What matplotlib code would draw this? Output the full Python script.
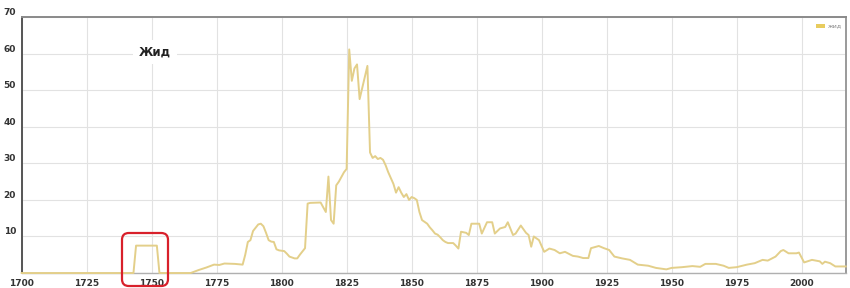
import matplotlib.pyplot as plt
from matplotlib.patches import FancyBboxPatch, Rectangle

# word frequency of "жид"
years = [1700, 1743, 1744, 1752, 1753, 1765, 1768, 1771, 1774, 1776, 1778, 1782, 1785,
         1786, 1787, 1788, 1789, 1791, 1792, 1793, 1794, 1795, 1796, 1797, 1798, 1799,
         1801, 1802, 1803, 1805, 1806, 1807, 1809, 1810, 1811, 1815, 1817, 1818, 1819,
         1820, 1821, 1822, 1824, 1825, 1826, 1827, 1828, 1829, 1830, 1833, 1834, 1835,
         1836, 1837, 1838, 1839, 1840, 1841, 1842, 1843, 1844, 1845, 1846, 1847, 1848,
         1849, 1850, 1851, 1852, 1853, 1854, 1855, 1856, 1857, 1858, 1859, 1860, 1861,
         1862, 1863, 1864, 1866, 1867, 1868, 1869, 1871, 1872, 1873, 1876, 1877, 1879,
         1881, 1882, 1884, 1886, 1887, 1889, 1890, 1892, 1893, 1894, 1895, 1896, 1897,
         1898, 1899, 1901, 1903, 1905, 1907, 1909, 1912, 1914, 1916, 1918, 1919, 1922,
         1924, 1926, 1928, 1931, 1934, 1937, 1941, 1944, 1948, 1950, 1954, 1958, 1961,
         1963, 1967, 1970, 1972, 1975, 1979, 1982, 1985, 1987, 1990, 1992, 1993, 1995,
         1998, 1999, 2001, 2004, 2007, 2008, 2009, 2011, 2013, 2017]
values = [0, 0, 7.5, 7.5, 0, 0, 0.8, 1.5, 2.3, 2.2, 2.6, 2.5, 2.3,
          5, 8.5, 9, 11.5, 13.3, 13.5, 12.8, 11, 9, 8.6, 8.5, 6.5, 6.2,
          6, 5.3, 4.5, 4, 4, 5, 6.8, 19, 19.2, 19.3, 16.7, 26.4, 14.5,
          13.5, 24, 25, 27.6, 28.5, 61.2, 52.6, 56, 57.1, 47.6, 56.7, 33, 31.5,
          32, 31.2, 31.5, 31, 29.5, 27.6, 26, 24.4, 22, 23.5, 22, 20.8, 21.6,
          20, 20.8, 20.5, 20, 16.7, 14.5, 14, 13.5, 12.5, 11.7, 10.8, 10.5, 9.8,
          9, 8.5, 8.2, 8.2, 7.5, 6.7, 11.3, 11, 10.4, 13.5, 13.5, 10.8, 13.9,
          13.9, 10.8, 12.2, 12.6, 13.9, 10.4, 10.8, 13, 12, 11, 10.4, 7.2, 10,
          9.5, 9, 5.8, 6.7, 6.3, 5.4, 5.8, 4.7, 4.5, 4.1, 4.1, 6.8, 7.4,
          6.8, 6.3, 4.5, 4, 3.6, 2.3, 2, 1.4, 1, 1.4, 1.6, 1.9, 1.7,
          2.5, 2.5, 2, 1.4, 1.6, 2.3, 2.7, 3.6, 3.4, 4.5, 6, 6.3, 5.4,
          5.4, 5.6, 2.9, 3.6, 3.2, 2.5, 3.1, 2.7, 1.8, 1.8]

xticks = [1700, 1725, 1750, 1775, 1800, 1825, 1850, 1875, 1900, 1925, 1950, 1975, 2000]
yticks = [0, 10, 20, 30, 40, 50, 60, 70]

line_color = '#E3CF8A'

fig = plt.figure(figsize=(8.5, 2.88), dpi=100)
ax = fig.add_axes([0.0255, 0.052, 0.9695, 0.888])

ax.plot(years, values, color=line_color, linewidth=1.4, zorder=5, clip_on=False)

ax.set_xlim(1700, 2017)
ax.set_ylim(0, 70)
ax.set_xticks(xticks)
ax.set_yticks(yticks)
ax.set_xticklabels([str(t) for t in xticks], fontsize=6.5, fontweight='bold', color='#333333')
ax.set_yticklabels([''] + [str(t) for t in yticks[1:]], fontsize=6.5, fontweight='bold',
                   color='#333333', va='bottom')
ax.tick_params(length=0, pad=4)
ax.tick_params(axis='y', pad=4)
ax.grid(True, color='#e2e2e2', linewidth=0.8)
ax.set_axisbelow(True)

ax.spines['left'].set_color('#555555')
ax.spines['left'].set_linewidth(1.4)
ax.spines['top'].set_color('#8a8a8a')
ax.spines['top'].set_linewidth(1.4)
ax.spines['right'].set_color('#9a9a9a')
ax.spines['right'].set_linewidth(1.4)
ax.spines['bottom'].set_color('#b0b0b0')
ax.spines['bottom'].set_linewidth(1.0)

# title inside the plot
ax.text(155 / 850, 1 - 52 / 288, 'Жид', transform=fig.transFigure, ha='center', va='center',
        fontsize=8.5, fontweight='bold', color='#222222',
        bbox=dict(facecolor='white', edgecolor='none', pad=4), zorder=6)

# small legend top right
fig.patches.append(Rectangle((816 / 850, 1 - 28 / 288), 9 / 850, 4 / 288,
                             transform=fig.transFigure, facecolor='#E8CC5E', edgecolor='none'))
fig.text(828 / 850, 1 - 26 / 288, 'жид', fontsize=4.5, color='#888888', va='center')

# red highlight box around 1750
box = FancyBboxPatch((122 / 850, 2 / 288), 46 / 850, 53 / 288,
                     boxstyle='round,pad=0,rounding_size=0.008',
                     transform=fig.transFigure, facecolor='none',
                     edgecolor='#D8202B', linewidth=1.6, zorder=10,
                     mutation_aspect=850 / 288)
fig.patches.append(box)

fig.savefig('out.png', dpi=100)
